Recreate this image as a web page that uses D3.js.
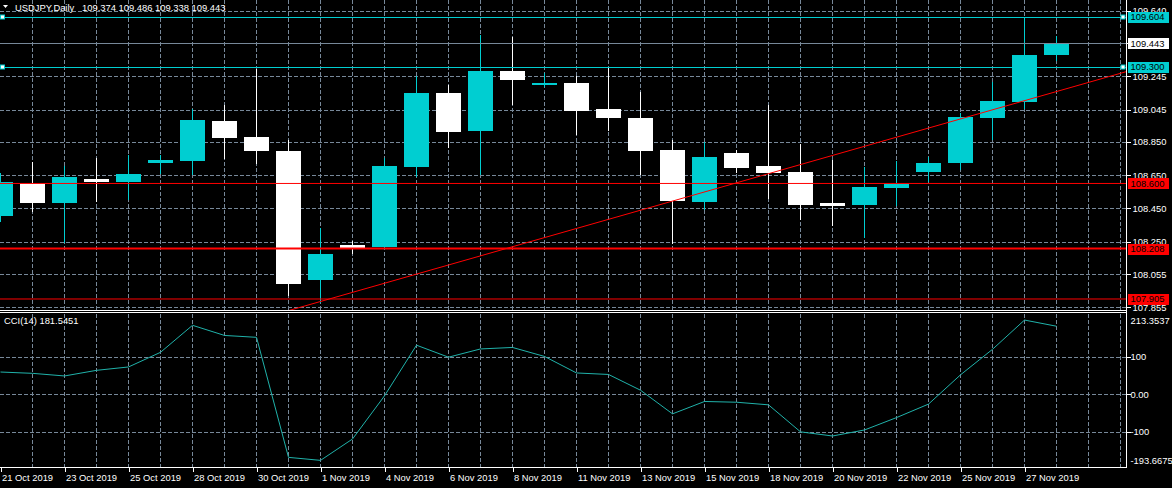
<!DOCTYPE html>
<html>
<head>
<meta charset="utf-8">
<script src="https://cdn.jsdelivr.net/npm/d3@7/dist/d3.min.js"></script>
<style>
  html, body { margin: 0; padding: 0; background: #000; }
  svg { display: block; }
  text { font-family: "Liberation Sans", Arial, sans-serif; }
</style>
</head>
<body>
<svg id="chart" width="1172" height="488"></svg>
<script>
// ---------------- data ----------------
const dates = ["21 Oct 2019","22 Oct 2019","23 Oct 2019","24 Oct 2019","25 Oct 2019","27 Oct 2019",
  "28 Oct 2019","29 Oct 2019","30 Oct 2019","31 Oct 2019","1 Nov 2019","3 Nov 2019","4 Nov 2019",
  "5 Nov 2019","6 Nov 2019","7 Nov 2019","8 Nov 2019","10 Nov 2019","11 Nov 2019","12 Nov 2019",
  "13 Nov 2019","14 Nov 2019","15 Nov 2019","17 Nov 2019","18 Nov 2019","19 Nov 2019","20 Nov 2019",
  "21 Nov 2019","22 Nov 2019","24 Nov 2019","25 Nov 2019","26 Nov 2019","27 Nov 2019","28 Nov 2019"];
const opens  = [108.406,108.603,108.483,108.627,108.611,108.725,108.737,108.976,108.880,108.795,108.021,108.230,108.216,
  108.701,109.144,108.918,109.277,109.194,109.205,109.048,108.994,108.801,108.490,108.783,108.705,108.669,108.483,
  108.471,108.575,108.671,108.725,108.996,109.092,109.374];
const highs  = [108.661,108.731,108.705,108.753,108.770,108.770,109.046,109.070,109.289,108.862,108.330,108.256,108.753,
  109.245,109.193,109.493,109.480,109.267,109.247,109.297,109.150,108.862,108.851,108.801,109.072,108.839,108.741,
  108.699,108.735,108.761,109.026,109.211,109.604,109.486];
const lows   = [108.370,108.430,108.244,108.489,108.502,108.657,108.649,108.749,108.719,107.925,107.883,108.178,108.200,
  108.641,108.815,108.649,109.074,109.179,108.894,108.918,108.651,108.238,108.440,108.661,108.505,108.380,108.344,
  108.272,108.466,108.611,108.683,108.863,109.050,109.338];
const closes = [108.609,108.483,108.639,108.611,108.657,108.741,108.982,108.875,108.797,107.997,108.176,108.214,108.705,
  109.144,108.912,109.277,109.224,109.206,109.038,108.996,108.797,108.496,108.759,108.695,108.665,108.471,108.466,
  108.579,108.599,108.723,109.000,109.096,109.373,109.443];
const cci = [59.5,56,49,64,73,112,184,157,152,-168,-176,-119,-4,131,99,121,125,101,57,53,11,-52,-19,-21,-28,
  -100,-111,-95,-62,-26,52,120,198,181.5451];

const priceTickLabels = ["109.640","109.445","109.245","109.045","108.850","108.650","108.450","108.250","108.055","107.855"];
const cciMax = 213.3537, cciMin = -193.6675;
const cciTickValues = [cciMax, 100, 0, -100, cciMin];
const cciTickLabels = ["213.3537","100","0.00","-100","-193.6675"];
const xLabelDates = ["21 Oct 2019","23 Oct 2019","25 Oct 2019","28 Oct 2019","30 Oct 2019","1 Nov 2019","4 Nov 2019",
  "6 Nov 2019","8 Nov 2019","11 Nov 2019","13 Nov 2019","15 Nov 2019","18 Nov 2019","20 Nov 2019","22 Nov 2019",
  "25 Nov 2019","27 Nov 2019"];

// horizontal line objects
const cyanLevels = [109.604, 109.300];
const redLevels = [108.600, 108.208, 107.905];
const redWidths = [1, 2, 1];
const bidPrice = 109.443;
// trend line anchors: [bar index, price]
const trendIdx = [9, 33];
const trendPrice = [107.835, 109.153];

const titleSymbol = "USDJPY,Daily";
const titleOHLC = "109.374 109.486 109.338 109.443";
const cciTitle = "CCI(14) 181.5451";

// ---------------- layout ----------------
const CYAN = "#00CED1", RED = "#FF0000", GRID = "#778899", CCI_COL = "#20B2AA";
const plotRight = 1126;
const upperBottom = 310;
const lowerTop = 312.5;
const axisY = 467.5;
const FS = "9.4px";

const svg = d3.select("#chart");
svg.append("rect").attr("width", 1172).attr("height", 488).attr("fill", "#000");

const x = d3.scalePoint().domain(dates).range([0.5, 1056.5]);
const step = x.step();
const yP = d3.scaleLinear().domain([107.855, 109.640]).range([307.3, 10.6]);
const yC = d3.scaleLinear().domain([cciMin, cciMax]).range([467, 314.3]);

const defs = svg.append("defs");
defs.append("clipPath").attr("id", "clipU").append("rect")
  .attr("x", 0).attr("y", 0).attr("width", plotRight).attr("height", upperBottom);
defs.append("clipPath").attr("id", "clipL").append("rect")
  .attr("x", 0).attr("y", lowerTop).attr("width", plotRight).attr("height", axisY - lowerTop);

// ---------------- grid ----------------
const gridXs = d3.range(1, 40).map(i => x(dates[0]) + i * step).filter(v => v < plotRight - 2);
const grid = svg.append("g").attr("stroke", GRID).attr("stroke-dasharray", "4,2")
  .attr("shape-rendering", "crispEdges").attr("stroke-width", 1);
grid.selectAll("line.vu").data(gridXs).join("line").attr("class", "vu")
  .attr("x1", d => Math.floor(d) + 0.5).attr("x2", d => Math.floor(d) + 0.5)
  .attr("y1", 0).attr("y2", upperBottom);
grid.selectAll("line.vl").data(gridXs).join("line").attr("class", "vl")
  .attr("x1", d => Math.floor(d) + 0.5).attr("x2", d => Math.floor(d) + 0.5)
  .attr("y1", lowerTop + 1).attr("y2", axisY);
grid.selectAll("line.hu").data(priceTickLabels.map(Number)).join("line").attr("class", "hu")
  .attr("x1", 0).attr("x2", plotRight)
  .attr("y1", d => Math.round(yP(d)) + 0.5).attr("y2", d => Math.round(yP(d)) + 0.5);
grid.selectAll("line.hl").data([100, 0, -100]).join("line").attr("class", "hl")
  .attr("x1", 0).attr("x2", plotRight)
  .attr("y1", d => Math.round(yC(d)) + 0.5).attr("y2", d => Math.round(yC(d)) + 0.5);

// ---------------- candles ----------------
const bars = dates.map((d, i) => ({d, o: opens[i], h: highs[i], l: lows[i], c: closes[i]}));
const cg = svg.append("g").attr("clip-path", "url(#clipU)").attr("shape-rendering", "crispEdges");
cg.selectAll("line.wick").data(bars).join("line").attr("class", "wick")
  .attr("x1", b => x(b.d)).attr("x2", b => x(b.d))
  .attr("y1", b => yP(b.h)).attr("y2", b => yP(b.l))
  .attr("stroke", b => b.c > b.o ? CYAN : "#fff").attr("stroke-width", 1);
cg.selectAll("rect.body").data(bars).join("rect").attr("class", "body")
  .attr("x", b => x(b.d) - 12.5).attr("width", 25)
  .attr("y", b => yP(Math.max(b.o, b.c)))
  .attr("height", b => Math.max(2, Math.abs(yP(b.o) - yP(b.c))))
  .attr("fill", b => b.c > b.o ? CYAN : "#fff");

// ---------------- objects ----------------
const og = svg.append("g").attr("clip-path", "url(#clipU)");
og.selectAll("line.red").data(redLevels).join("line").attr("class", "red")
  .attr("x1", 0).attr("x2", plotRight)
  .attr("y1", d => yP(d)).attr("y2", d => yP(d))
  .attr("stroke", RED).attr("stroke-width", (d, i) => redWidths[i]);
og.append("line").attr("x1", 0).attr("x2", plotRight)
  .attr("y1", Math.round(yP(bidPrice)) + 0.5).attr("y2", Math.round(yP(bidPrice)) + 0.5)
  .attr("stroke", GRID).attr("stroke-width", 1);
og.selectAll("line.cy").data(cyanLevels).join("line").attr("class", "cy")
  .attr("x1", 0).attr("x2", plotRight)
  .attr("y1", d => Math.round(yP(d)) + 0.5).attr("y2", d => Math.round(yP(d)) + 0.5)
  .attr("stroke", CYAN).attr("stroke-width", 1);
// trend line (ray to the right border)
const tSlope = (trendPrice[1] - trendPrice[0]) / (trendIdx[1] - trendIdx[0]);
const idxToX = i => x(dates[0]) + i * step;
const endIdx = (plotRight - x(dates[0])) / step;
og.append("line")
  .attr("x1", idxToX(trendIdx[0])).attr("y1", yP(trendPrice[0]))
  .attr("x2", idxToX(endIdx)).attr("y2", yP(trendPrice[0] + tSlope * (endIdx - trendIdx[0])))
  .attr("stroke", RED).attr("stroke-width", 1);
// selection squares on cyan lines
cyanLevels.forEach(v => {
  const yy = Math.round(yP(v)) - 2;
  [0.5, plotRight - 5].forEach(xx => {
    svg.append("rect").attr("x", xx).attr("y", yy).attr("width", 4).attr("height", 4)
      .attr("fill", "#fff").attr("stroke", CYAN).attr("stroke-width", 1);
  });
});

// ---------------- CCI ----------------
const line = d3.line().x((v, i) => x(dates[i])).y(v => yC(v));
svg.append("path").datum(cci).attr("clip-path", "url(#clipL)")
  .attr("d", line).attr("fill", "none").attr("stroke", CCI_COL).attr("stroke-width", 1);

// ---------------- frames ----------------
const fr = svg.append("g").attr("stroke", "#fff").attr("stroke-width", 1).attr("shape-rendering", "crispEdges");
fr.append("line").attr("x1", 0).attr("x2", plotRight).attr("y1", 310.5).attr("y2", 310.5);
fr.append("line").attr("x1", 0).attr("x2", plotRight).attr("y1", 312.5).attr("y2", 312.5);
fr.append("line").attr("x1", 0).attr("x2", plotRight + 0.5).attr("y1", axisY).attr("y2", axisY);
fr.append("line").attr("x1", plotRight + 0.5).attr("x2", plotRight + 0.5).attr("y1", 0).attr("y2", axisY);

// ---------------- axes ----------------
function styleAxis(g) {
  g.select(".domain").remove();
  g.selectAll(".tick line").attr("stroke", "#fff").attr("shape-rendering", "crispEdges");
  g.selectAll(".tick text").attr("fill", "#fff").style("font-size", FS)
    .style("font-family", "'Liberation Sans', Arial, sans-serif");
}
const pAxis = d3.axisRight(yP).tickValues(priceTickLabels.map(Number))
  .tickFormat((d, i) => priceTickLabels[i]).tickSize(4).tickPadding(2);
svg.append("g").attr("transform", `translate(${plotRight + 0.5},0)`).call(pAxis).call(styleAxis);

const cAxis = d3.axisRight(yC).tickValues(cciTickValues)
  .tickFormat((d, i) => cciTickLabels[i]).tickSize(4).tickPadding(0);
const cg2 = svg.append("g").attr("transform", `translate(${plotRight + 0.5},0)`).call(cAxis).call(styleAxis);
cg2.selectAll(".tick").filter(d => d === cciMax || d === cciMin).select("line").remove();
cg2.selectAll(".tick").filter(d => d === cciMax).select("text").attr("dy", "0.32em").attr("y", 6);
cg2.selectAll(".tick").filter(d => d === cciMin).select("text").attr("dy", "0.32em").attr("y", -7);

const xAxis = d3.axisBottom(x).tickValues(xLabelDates).tickSize(4).tickPadding(3);
const xg = svg.append("g").attr("transform", `translate(0,${axisY})`).call(xAxis).call(styleAxis);
xg.selectAll(".tick text").attr("text-anchor", "start").attr("x", 1);

// ---------------- level labels on the right ----------------
const labels = [
  {v: cyanLevels[0], bg: CYAN, t: "#000"},
  {v: bidPrice, bg: "#fff", t: "#000"},
  {v: cyanLevels[1], bg: CYAN, t: "#000"},
  {v: redLevels[0], bg: RED, t: "#000"},
  {v: redLevels[1], bg: RED, t: "#000"},
  {v: redLevels[2], bg: RED, t: "#000"}
];
const lg = svg.append("g");
labels.forEach(L => {
  const yy = yP(L.v);
  lg.append("rect").attr("x", 1128).attr("y", Math.round(yy) - 5).attr("width", 41).attr("height", 11)
    .attr("fill", L.bg);
  lg.append("text").attr("x", 1130.5).attr("y", yy).attr("dy", "0.35em")
    .attr("fill", L.t).style("font-size", FS).text(d3.format(".3f")(L.v));
});

// ---------------- titles ----------------
svg.append("path").attr("d", "M3,5 L8,5 L5.5,8 Z").attr("fill", "#fff");
svg.append("text").attr("x", 15).attr("y", 7.5).attr("dy", "0.35em").attr("fill", "#fff")
  .style("font-size", FS).text(titleSymbol);
svg.append("text").attr("x", 82).attr("y", 7.5).attr("dy", "0.35em").attr("fill", "#fff")
  .style("font-size", FS).text(titleOHLC);
svg.append("text").attr("x", 4).attr("y", 321).attr("dy", "0.35em").attr("fill", "#fff")
  .style("font-size", FS).text(cciTitle);
</script>
</body>
</html>
